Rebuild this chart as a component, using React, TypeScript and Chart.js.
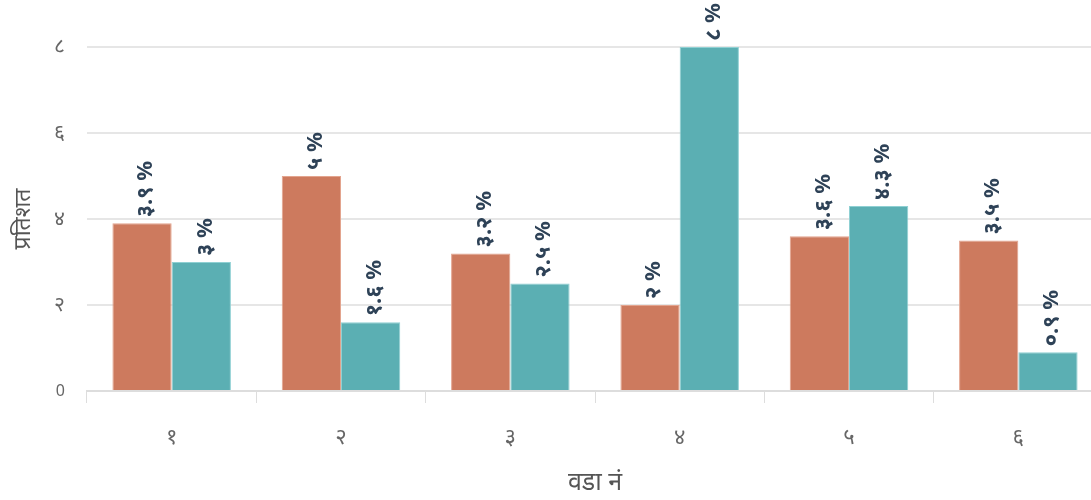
import React, { useEffect, useRef } from "react";
import { Chart, registerables } from "chart.js";

Chart.register(...registerables);

const wards = ["१", "२", "३", "४", "५", "६"];
const seriesA = [3.9, 5, 3.2, 2, 3.6, 3.5];
const seriesB = [3, 1.6, 2.5, 8, 4.3, 0.9];
const labelsA = ["३.९ %", "५ %", "३.२ %", "२ %", "३.६ %", "३.५ %"];
const labelsB = ["३ %", "१.६ %", "२.५ %", "८ %", "४.३ %", "०.९ %"];
const yTickLabels: Record<number, string> = { 0: "0", 2: "२", 4: "४", 6: "६", 8: "८" };

const FONT = "'Noto Sans', 'Open Sans', sans-serif";

const valueLabels = {
  id: "valueLabels",
  afterDatasetsDraw(chart: any) {
    const ctx = chart.ctx;
    const all = [labelsA, labelsB];
    chart.data.datasets.forEach((_ds: any, di: number) => {
      const meta = chart.getDatasetMeta(di);
      meta.data.forEach((bar: any, i: number) => {
        ctx.save();
        ctx.translate(bar.x + 4, bar.y - 6);
        ctx.rotate(-Math.PI / 2);
        ctx.font = `bold 22px ${FONT}`;
        ctx.fillStyle = "#2e4257";
        ctx.textAlign = "left";
        ctx.textBaseline = "middle";
        ctx.fillText(all[di][i], 0, 0);
        ctx.restore();
      });
    });
  },
};

export default function App() {
  const ref = useRef<HTMLCanvasElement>(null);
  useEffect(() => {
    if (!ref.current) return;
    const chart = new Chart(ref.current, {
      type: "bar",
      data: {
        labels: wards,
        datasets: [
          {
            data: seriesA,
            backgroundColor: "#cd7a5e",
            borderColor: "#e3a48e",
            borderWidth: 1,
            categoryPercentage: 0.7,
            barPercentage: 1.0,
          },
          {
            data: seriesB,
            backgroundColor: "#5bafb3",
            borderColor: "#8fd0d3",
            borderWidth: 1,
            categoryPercentage: 0.7,
            barPercentage: 1.0,
          },
        ],
      },
      options: {
        animation: false,
        responsive: false,
        maintainAspectRatio: false,
        layout: { padding: { top: 47, left: 0, right: 7, bottom: 0 } },
        plugins: { legend: { display: false }, tooltip: { enabled: false } },
        scales: {
          x: {
            grid: {
              offset: true,
              drawOnChartArea: false,
              drawTicks: true,
              tickLength: 12,
              color: "#dddddd",
            },
            border: { display: true, color: "#dddddd", width: 2 },
            ticks: { color: "#666666", font: { family: FONT, size: 22 }, padding: 22 },
            title: {
              display: true,
              text: "वडा नं",
              color: "#555555",
              font: { family: FONT, size: 25 },
              padding: { top: 0, bottom: 2 },
            },
            afterFit: (s: any) => {
              s.height = 109;
            },
          },
          y: {
            min: 0,
            max: 8,
            grid: { color: "#e6e6e6", drawTicks: false, lineWidth: 2 },
            border: { display: false },
            ticks: {
              stepSize: 2,
              color: "#666666",
              font: (c: any) => ({ family: FONT, size: c.tick && c.tick.value === 0 ? 16 : 21 }),
              padding: 22,
              callback: (v: any) => yTickLabels[v as number] ?? String(v),
            },
            title: {
              display: true,
              text: "प्रतिशत",
              color: "#555555",
              font: { family: FONT, size: 23 },
              padding: { top: 10, bottom: 0 },
            },
            afterFit: (s: any) => {
              s.width = 87;
            },
          },
        },
      },
      plugins: [valueLabels],
    });
    return () => chart.destroy();
  }, []);
  return (
    <div style={{ position: "absolute", left: 0, top: 0, width: 1110, height: 500 }}>
      <canvas ref={ref} width={1110} height={500} />
    </div>
  );
}
